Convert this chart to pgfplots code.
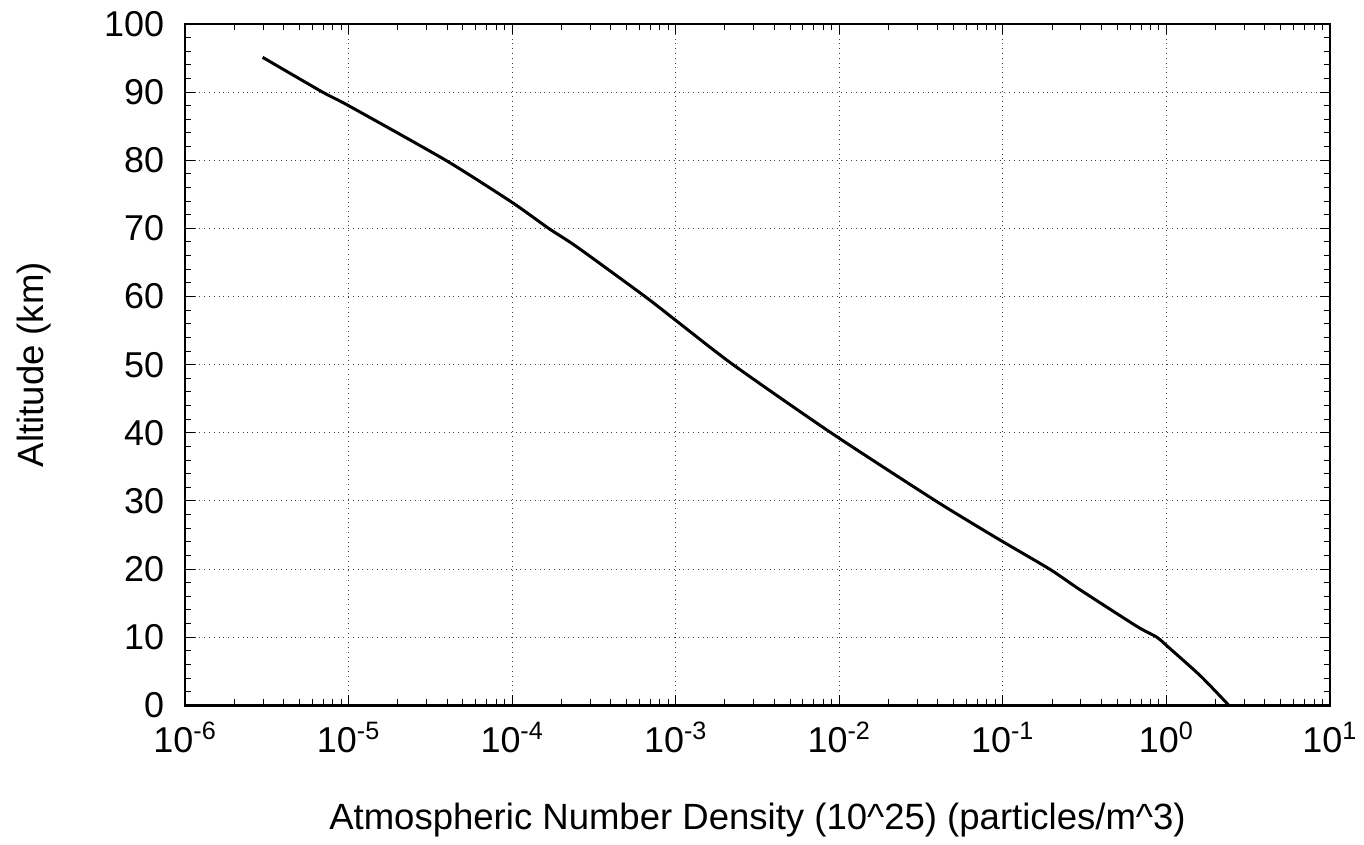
\documentclass[border=0pt]{standalone}
\usepackage{fontspec}
\setmainfont{Liberation Sans}
\usepackage{pgfplots}
\pgfplotsset{compat=1.18}
\begin{document}
\begin{tikzpicture}
\begin{axis}[
  scale only axis,
  width=573.5pt, height=341.35pt,
  xmode=log,
  xmin=1e-6, xmax=1e1,
  ymin=0, ymax=100,
  xtick={1e-6,1e-5,1e-4,1e-3,1e-2,1e-1,1e0,1e1},
  xticklabels={10\textsuperscript{-6},10\textsuperscript{-5},10\textsuperscript{-4},10\textsuperscript{-3},10\textsuperscript{-2},10\textsuperscript{-1},10\textsuperscript{0},10\textsuperscript{1}},
  ytick={0,10,...,100},
  minor y tick num=4,
  /pgf/number format/assume math mode=true,
  tick align=inside,
  major tick length=5pt,
  minor tick length=3pt,
  tick style={black, line width=0.5pt},
  axis line style={black, line width=1.3pt},
  grid=major,
  major grid style={black!75, dotted, line width=0.5pt},
  tick label style={font=\fontsize{18pt}{21pt}\selectfont},
  label style={font=\fontsize{18.3pt}{22pt}\selectfont},
  xlabel={Atmospheric Number Density (10\^{}25) (particles/m\^{}3)},
  ylabel={Altitude (km)},
  xlabel style={at={(axis description cs:0.5,-0.1688)}, anchor=center},
  ylabel style={at={(axis description cs:-0.1321,0.5)}, anchor=center},
  xticklabel style={yshift=-5pt},
  yticklabel style={xshift=-7pt},
]
\addplot[black, line width=1.5pt, smooth, tension=0.4] coordinates {
(2.98e-6,95.1)
(6.92e-6,90)
(1.0e-5,88.0)
(3.92e-5,80)
(1.0e-4,73.8)
(1.67e-4,70)
(2.48e-4,67.3)
(6.49e-4,60)
(1.0e-3,56.5)
(2.24e-3,50)
(8.9e-3,40)
(3.89e-2,30)
(0.0925,24.5)
(0.193,20)
(0.295,17.0)
(0.659,11.6)
(0.875,10)
(1.0,8.8)
(1.62,4.3)
(2.41,0)
};
\end{axis}
\path (current axis.south west) ++(-92.75pt,-69.65pt) coordinate (bbA);
\path (current axis.north east) ++(15.75pt,12pt) coordinate (bbB);
\path (bbA) rectangle (bbB);
\end{tikzpicture}
\end{document}
